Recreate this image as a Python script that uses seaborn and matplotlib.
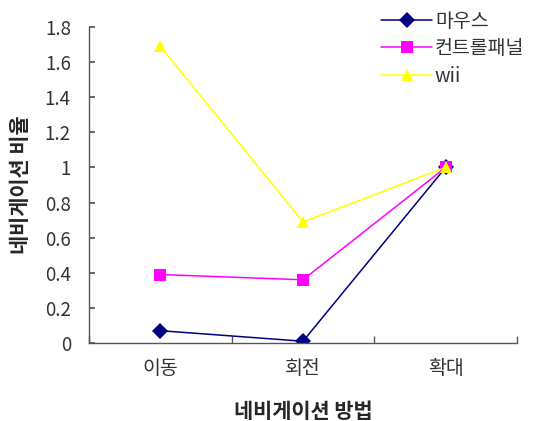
import matplotlib
matplotlib.use("Agg")
import matplotlib.pyplot as plt
import seaborn as sns
import pandas as pd

categories = ["이동", "회전", "확대"]
series_names = ["마우스", "컨트롤패널", "wii"]
mouse = [0.07, 0.01, 1.0]
control_panel = [0.39, 0.36, 1.0]
wii = [1.69, 0.69, 1.0]
y_ticks = [0, 0.2, 0.4, 0.6, 0.8, 1, 1.2, 1.4, 1.6, 1.8]
y_tick_labels = ["0", "0.2", "0.4", "0.6", "0.8", "1", "1.2", "1.4", "1.6", "1.8"]

sns.set_theme(style="white")
plt.rcParams["font.family"] = ["Noto Sans CJK KR", "DejaVu Sans"]

rows = []
for name, vals in zip(series_names, [mouse, control_panel, wii]):
    for i, v in enumerate(vals):
        rows.append({"pos": i, "value": v, "series": name})
df = pd.DataFrame(rows)

palette = {"마우스": "#000080", "컨트롤패널": "#FF00FF", "wii": "#FFFF00"}
markers = {"마우스": "D", "컨트롤패널": "s", "wii": "^"}

fig = plt.figure(figsize=(5.38, 4.21), dpi=100)
ax = fig.add_axes([0.1654, 0.1853, 0.961 - 0.1654, 0.9359 - 0.1853])

sns.lineplot(data=df, x="pos", y="value", hue="series", style="series",
             hue_order=series_names, style_order=series_names,
             palette=palette, markers=markers, dashes=False,
             markersize=8, markeredgewidth=0, linewidth=1.1, ax=ax)

ax.set_xlim(-0.5, 2.5)
ax.set_ylim(0, 1.8)
ax.set_yticks(y_ticks)
ax.set_yticklabels(y_tick_labels)
ax.set_xticks([0, 1, 2])
ax.set_xticklabels(categories)
ax.set_xticks([-0.5, 0.5, 1.5, 2.5], minor=True)

for s in ["top", "right"]:
    ax.spines[s].set_visible(False)
for s in ["left", "bottom"]:
    ax.spines[s].set_color("#555555")
    ax.spines[s].set_linewidth(1.0)

ax.tick_params(axis="y", which="major", direction="in", length=4, color="#555555",
               labelsize=13.5, labelcolor="#333333", pad=13, left=True)
ax.tick_params(axis="x", which="major", length=0, labelsize=14,
               labelcolor="#333333", pad=11)
ax.tick_params(axis="x", which="minor", direction="in", length=5,
               color="#555555", bottom=True)

ax.set_xlabel("네비게이션 방법", fontsize=15, fontweight="bold", labelpad=16)
ax.set_ylabel("네비게이션 비율", fontsize=15, fontweight="bold", labelpad=10)

leg = ax.legend(loc="upper left", bbox_to_anchor=(0.665, 1.075), frameon=False,
                fontsize=14, handlelength=2.6, handletextpad=0.15,
                labelspacing=0.32, borderaxespad=0)
for t in leg.get_texts():
    t.set_color("#333333")

fig.savefig("out.png", dpi=100, facecolor="white")
